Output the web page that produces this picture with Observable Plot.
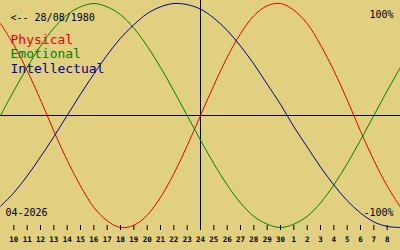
<!DOCTYPE html>
<html><head><meta charset="utf-8">
<script src="https://cdn.jsdelivr.net/npm/d3@7"></script>
<script src="https://cdn.jsdelivr.net/npm/@observablehq/plot@0.6"></script>
<style>
html,body{margin:0;padding:0;background:#e0d080;}
svg{display:block;}
</style></head><body><div id="chart"></div>
<script>
// day labels, one per day index (9 Apr .. 9 May)
const dayLabels = ["9","10","11","12","13","14","15","16","17","18","19","20","21","22","23","24","25","26","27","28","29","30","1","2","3","4","5","6","7","8","9"];
const physical = [0.82,0.63,0.40,0.14,-0.14,-0.40,-0.63,-0.82,-0.94,-1.00,-0.98,-0.89,-0.73,-0.52,-0.27,0,0.27,0.52,0.73,0.89,0.98,1.00,0.94,0.82,0.63,0.40,0.14,-0.14,-0.40,-0.63,-0.82];
const emotional = [0,0.22,0.43,0.62,0.78,0.90,0.97,1.00,0.97,0.90,0.78,0.62,0.43,0.22,0,-0.22,-0.43,-0.62,-0.78,-0.90,-0.97,-1.00,-0.97,-0.90,-0.78,-0.62,-0.43,-0.22,0,0.22,0.43];
const intellectual = [-0.81,-0.69,-0.54,-0.37,-0.19,0,0.19,0.37,0.54,0.69,0.81,0.91,0.97,1.00,0.99,0.95,0.87,0.76,0.62,0.46,0.28,0.10,-0.10,-0.28,-0.46,-0.62,-0.76,-0.87,-0.95,-0.99,-1.00];
const seriesNames = ["Physical","Emotional","Intellectual"];
const seriesColors = ["#ee0000","#008000","#000090"];
const birthLabel = "<-- 28/08/1980";
const monthLabel = "04-2026";
const topLabel = "100%";
const bottomLabel = "-100%";

const seriesValues = [physical, emotional, intellectual];
const rows = seriesValues.flatMap((vals, s) => vals.map((v, i) => ({t: i, value: v, series: seriesNames[s]})));
const n = dayLabels.length;
const center = Math.floor(n / 2);
const ticks = d3.range(1, n - 1);
const mono = "DejaVu Sans Mono";

const chart = Plot.plot({
  width: 400,
  height: 250,
  marginLeft: 0, marginRight: 0, marginTop: 0, marginBottom: 25,
  style: {background: "#e0d080", fontFamily: mono, color: "black"},
  x: {domain: [0, n - 1], range: [0, 400], label: null},
  y: {domain: [-1, 1], range: [227, 3], axis: null},
  color: {domain: seriesNames, range: seriesColors},
  marks: [
    Plot.ruleY([0], {stroke: "black", strokeWidth: 1}),
    Plot.ruleX([center], {stroke: "black", strokeWidth: 1}),
    ...seriesNames.map((name, s) => Plot.line(rows.filter(r => r.series === name), {x: "t", y: "value", stroke: seriesColors[s], strokeWidth: 1, curve: "catmull-rom"})),
    Plot.axisX({ticks, tickFormat: i => dayLabels[i], label: null, tickSize: 5, tickPadding: 6, fontSize: 7.5, fontWeight: "bold", stroke: "black", strokeOpacity: 1}),
    Plot.text([birthLabel], {frameAnchor: "top-left", text: d => d, dx: 10, dy: 20, lineAnchor: "bottom", textAnchor: "start", fontSize: 10, fill: "black"}),
    ...seriesNames.map((name, s) => Plot.text([name], {frameAnchor: "top-left", text: d => d, dx: 10, dy: 43 + s * 14.5, lineAnchor: "bottom", textAnchor: "start", fontSize: 13, fill: seriesColors[s]})),
    Plot.text([topLabel], {frameAnchor: "top-right", text: d => d, dx: -7, dy: 17, lineAnchor: "bottom", textAnchor: "end", fontSize: 10, fill: "black"}),
    Plot.text([bottomLabel], {frameAnchor: "bottom-right", text: d => d, dx: -7, dy: -10, lineAnchor: "bottom", textAnchor: "end", fontSize: 10, fill: "black"}),
    Plot.text([monthLabel], {frameAnchor: "bottom-left", text: d => d, dx: 5, dy: -10, lineAnchor: "bottom", textAnchor: "start", fontSize: 10, fill: "black"})
  ]
});
document.getElementById("chart").appendChild(chart);
</script>
</body></html>
